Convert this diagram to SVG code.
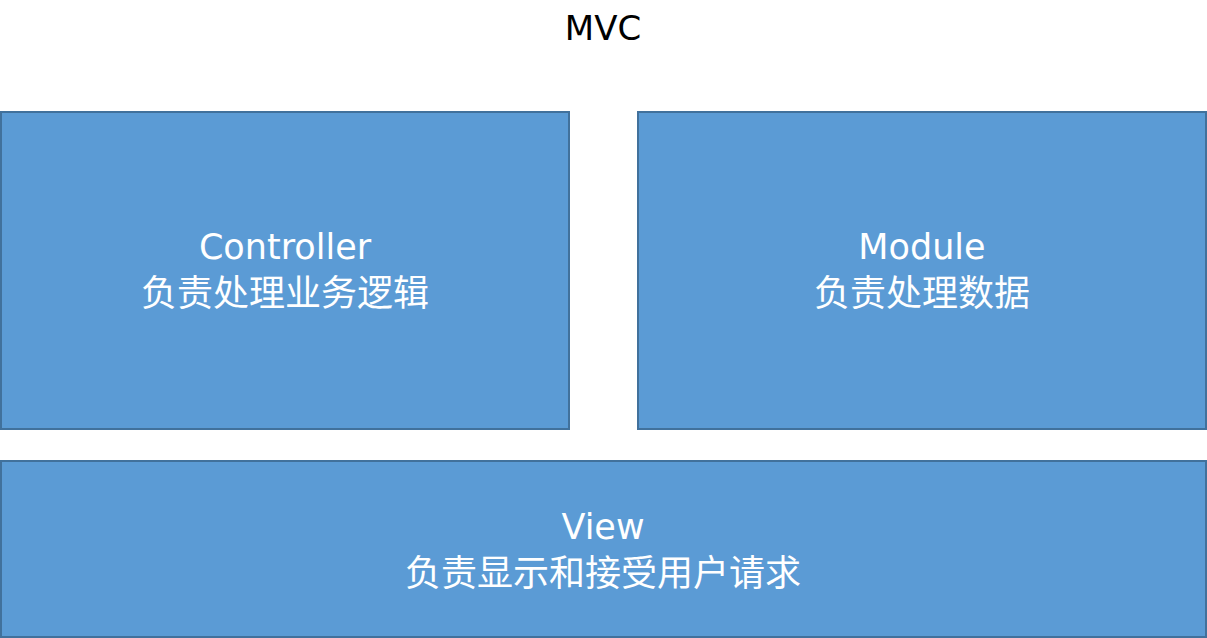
<svg xmlns="http://www.w3.org/2000/svg" width="1207" height="638" viewBox="0 0 1207 638">
<style>
.box{fill:#5b9bd5;stroke:#41719c;stroke-width:2}
.lbl{font-family:"DejaVu Sans","Noto Sans CJK SC",sans-serif;font-size:35px;fill:#ffffff;text-anchor:middle}
.cjk{font-family:"Noto Sans CJK SC","DejaVu Sans",sans-serif;font-size:36px}
.title{font-family:"DejaVu Sans",sans-serif;font-size:34px;fill:#000000;text-anchor:middle}
</style>
<rect width="1207" height="638" fill="#ffffff"/>
<text class="title" x="603" y="40">MVC</text>
<g id="controller">
<rect class="box" x="1" y="112" width="568" height="317"/>
<text class="lbl" x="285" y="259">Controller</text>
<text class="lbl cjk" x="285" y="306">负责处理业务逻辑</text>
</g>
<g id="module">
<rect class="box" x="638" y="112" width="568" height="317"/>
<text class="lbl" x="922" y="259">Module</text>
<text class="lbl cjk" x="922" y="306">负责处理数据</text>
</g>
<g id="view">
<rect class="box" x="1" y="461" width="1205" height="176"/>
<text class="lbl" x="603" y="539">View</text>
<text class="lbl cjk" x="603" y="586">负责显示和接受用户请求</text>
</g>
<g id="connectors"/>
</svg>
